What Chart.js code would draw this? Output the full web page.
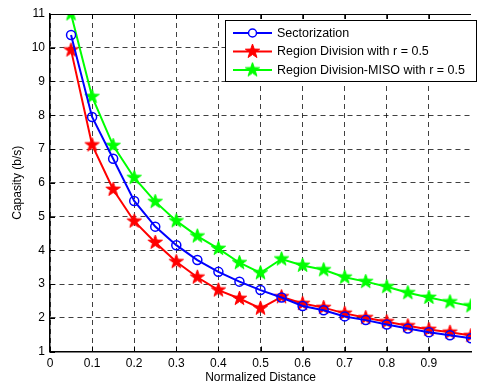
<!DOCTYPE html>
<html>
<head>
<meta charset="utf-8">
<script src="https://cdn.jsdelivr.net/npm/chart.js@4"></script>
<style>
  html, body { margin: 0; padding: 0; background: #fff; overflow: hidden; }
  #wrap { width: 477px; height: 385px; }
</style>
</head>
<body>
<div id="wrap"><canvas id="cap-chart" width="477" height="385"></canvas></div>
<script>
// distances 0.05 .. 1.0
const distances = [0.05, 0.1, 0.15, 0.2, 0.25, 0.3, 0.35, 0.4, 0.45, 0.5,
                   0.55, 0.6, 0.65, 0.7, 0.75, 0.8, 0.85, 0.9, 0.95, 1.0];
const sectorization = [10.38, 7.95, 6.71, 5.46, 4.7, 4.15, 3.71, 3.36, 3.07, 2.82,
                       2.6, 2.35, 2.22, 2.04, 1.93, 1.8, 1.68, 1.57, 1.48, 1.39];
const regionDivision = [9.93, 7.12, 5.8, 4.86, 4.23, 3.66, 3.2, 2.82, 2.57, 2.28,
                        2.62, 2.42, 2.3, 2.13, 2.0, 1.88, 1.76, 1.65, 1.57, 1.47];
const regionMiso = [11.0, 8.55, 7.1, 6.15, 5.44, 4.87, 4.42, 4.05, 3.63, 3.33,
                    3.74, 3.55, 3.42, 3.2, 3.07, 2.92, 2.74, 2.6, 2.47, 2.35];
const seriesNames = ['Sectorization', 'Region Division with r = 0.5', 'Region Division-MISO with r = 0.5'];
const xTicks = [0, 0.1, 0.2, 0.3, 0.4, 0.5, 0.6, 0.7, 0.8, 0.9];

const FONT = 'Arial, "Liberation Sans", sans-serif';

// filled five-point star like matlab's pentagram marker
function makeStar(color, r) {
    const c = document.createElement('canvas');
    const s = Math.ceil(r * 2 + 2);
    c.width = s; c.height = s;
    const g = c.getContext('2d');
    const cx = s / 2, cy = s / 2;
    g.beginPath();
    for (let i = 0; i < 10; i++) {
        const rad = i % 2 === 0 ? r : r * 0.4;
        const a = -Math.PI / 2 + i * Math.PI / 5;
        const px = cx + rad * Math.cos(a), py = cy + rad * Math.sin(a);
        if (i === 0) g.moveTo(px, py); else g.lineTo(px, py);
    }
    g.closePath();
    g.fillStyle = color;
    g.fill();
    g.strokeStyle = color;
    g.lineWidth = 1;
    g.stroke();
    return c;
}

const redStar = makeStar('#ff0000', 7.5);
const greenStar = makeStar('#00ff00', 7.5);

const toXY = (arr) => arr.map((v, i) => ({ x: distances[i], y: v }));

// box on top + inner ticks + legend box
const framePlugin = {
    id: 'frame',
    afterDatasetsDraw(chart) {
        const { ctx, chartArea: a, scales } = chart;
        ctx.save();
        ctx.strokeStyle = '#000';
        ctx.lineWidth = 1;
        ctx.setLineDash([]);
        ctx.beginPath();
        ctx.moveTo(a.left, a.top + 0.5);
        ctx.lineTo(a.right, a.top + 0.5);
        ctx.stroke();
        ctx.beginPath();
        xTicks.forEach((t) => {
            const px = Math.round(scales.x.getPixelForValue(t)) + 0.5;
            ctx.moveTo(px, a.bottom); ctx.lineTo(px, a.bottom - 5);
            ctx.moveTo(px, a.top); ctx.lineTo(px, a.top + 5);
        });
        scales.y.ticks.forEach((t) => {
            const py = Math.round(scales.y.getPixelForValue(t.value)) + 0.5;
            ctx.moveTo(a.left, py); ctx.lineTo(a.left + 5, py);
        });
        ctx.stroke();

        // legend
        const bx = 225.5, by = 20.5, bw = 251, bh = 61;
        ctx.fillStyle = '#fff';
        ctx.fillRect(bx, by, bw, bh);
        ctx.lineWidth = 1;
        ctx.strokeRect(bx, by, bw, bh);
        ctx.font = '12.5px ' + FONT;
        ctx.textBaseline = 'middle';
        chart.data.datasets.forEach((ds, i) => {
            const ly = by + 12.5 + i * 18.5;
            ctx.strokeStyle = ds.borderColor;
            ctx.lineWidth = 2;
            ctx.beginPath();
            ctx.moveTo(233, ly); ctx.lineTo(272, ly);
            ctx.stroke();
            if (ds.pointStyle === 'circle') {
                ctx.lineWidth = 1.5;
                ctx.beginPath();
                ctx.arc(252.5, ly, 4, 0, Math.PI * 2);
                ctx.fillStyle = '#fff';
                ctx.fill();
                ctx.stroke();
            } else {
                const img = ds.pointStyle;
                ctx.drawImage(img, 252.5 - img.width / 2, ly - img.height / 2);
            }
            ctx.fillStyle = '#000';
            ctx.fillText(ds.label, 277, ly + 0.5);
        });
        ctx.restore();
    },
};

new Chart(document.getElementById('cap-chart'), {
    type: 'line',
    data: {
        datasets: [
            {
                label: seriesNames[0],
                data: toXY(sectorization),
                borderColor: '#0000ff',
                backgroundColor: 'rgba(255,255,255,0)',
                borderWidth: 2,
                pointStyle: 'circle',
                pointRadius: 4.5,
                pointBorderWidth: 1.5,
                pointBorderColor: '#0000ff',
                pointBackgroundColor: 'rgba(255,255,255,0)',
                tension: 0,
            },
            {
                label: seriesNames[1],
                data: toXY(regionDivision),
                borderColor: '#ff0000',
                borderWidth: 2,
                pointStyle: redStar,
                tension: 0,
            },
            {
                label: seriesNames[2],
                data: toXY(regionMiso),
                borderColor: '#00ff00',
                borderWidth: 2,
                pointStyle: greenStar,
                tension: 0,
            },
        ],
    },
    options: {
        responsive: false,
        animation: false,
        devicePixelRatio: 1,
        layout: { padding: { top: 14, right: 0, bottom: 0, left: 0 } },
        plugins: {
            legend: { display: false },
            tooltip: { enabled: false },
        },
        scales: {
            x: {
                type: 'linear',
                min: 0,
                max: 1,
                afterBuildTicks: (s) => { s.ticks = xTicks.map((v) => ({ value: v })); },
                afterFit: (s) => { s.height = 33.5; },
                ticks: {
                    color: '#000',
                    font: { family: FONT, size: 12 },
                    padding: 5,
                    maxRotation: 0,
                    callback: (v) => String(Math.round(v * 10) / 10),
                },
                grid: {
                    color: 'rgba(0,0,0,0.75)',
                    lineWidth: 1,
                    drawTicks: false,
                },
                border: { display: true, color: '#000', width: 1.5, dash: [5, 4] },
                title: {
                    display: true,
                    text: 'Normalized Distance',
                    color: '#000',
                    font: { family: FONT, size: 12 },
                    padding: { top: 0, bottom: 0 },
                },
            },
            y: {
                min: 1,
                max: 11,
                afterFit: (s) => { s.width = 50; },
                ticks: {
                    stepSize: 1,
                    color: '#000',
                    font: { family: FONT, size: 12 },
                    padding: 5,
                },
                grid: {
                    color: 'rgba(0,0,0,0.75)',
                    lineWidth: 1,
                    drawTicks: false,
                },
                border: { display: true, color: '#000', width: 1.5, dash: [5, 4] },
                title: {
                    display: true,
                    text: 'Capasity (b/s)',
                    color: '#000',
                    font: { family: FONT, size: 12 },
                    padding: { top: 10, bottom: 0 },
                },
            },
        },
    },
    plugins: [framePlugin],
});
</script>
</body>
</html>
